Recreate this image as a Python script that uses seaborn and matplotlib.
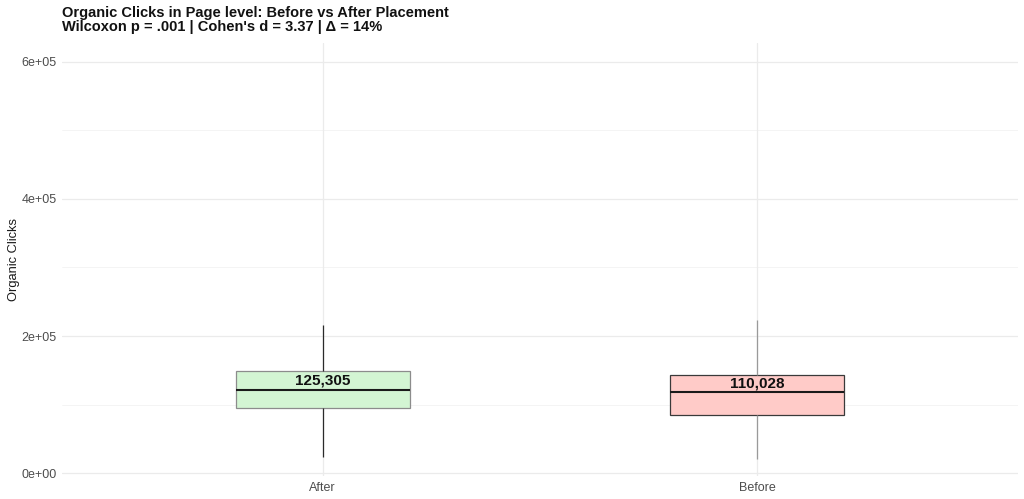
import numpy as np
import pandas as pd
import matplotlib
matplotlib.use("Agg")
import matplotlib.pyplot as plt
import seaborn as sns
from matplotlib.ticker import FixedLocator, FixedFormatter

# ---- data ----
groups = ["After", "Before"]
# five-number summaries: whisker low, Q1, median, Q3, whisker high
after_summary = [23900, 94700, 121500, 148300, 216700]
before_summary = [21500, 84900, 119000, 143500, 224000]
mean_values = [125305, 110028]
mean_labels = ["125,305", "110,028"]
y_ticks = [0, 200000, 400000, 600000]
y_tick_labels = ["0e+00", "2e+05", "4e+05", "6e+05"]
y_minor = [100000, 300000, 500000]
title_text = "Organic Clicks in Page level: Before vs After Placement\nWilcoxon p = .001 | Cohen's d = 3.37 | \u0394 = 14%"
y_label = "Organic Clicks"

fills = {"After": "#d3f5d3", "Before": "#ffcbc8"}
edges = {"After": "#8c8c8c", "Before": "#3a3a3a"}
whisk = {"After": "#2a2a2a", "Before": "#9a9a9a"}

df = pd.DataFrame({
    "group": ["After"] * len(after_summary) + ["Before"] * len(before_summary),
    "clicks": after_summary + before_summary,
})

sns.set_theme(style="white")
plt.rcParams["font.family"] = ["Liberation Sans", "DejaVu Sans"]

fig = plt.figure(figsize=(10.24, 4.99), dpi=100)
ax = fig.add_axes([62 / 1024, 1 - 476 / 499, (1018 - 62) / 1024, (476 - 43) / 499])

# grid
ax.set_axisbelow(True)
for y in y_ticks:
    ax.axhline(y, color="#ebebeb", lw=0.9, zorder=0)
for y in y_minor:
    ax.axhline(y, color="#f3f3f3", lw=0.6, zorder=0)
for i in range(len(groups)):
    ax.axvline(i, color="#ebebeb", lw=0.9, zorder=0)

for g in groups:
    sub = df[df["group"] == g]
    sns.boxplot(
        data=sub, x="group", y="clicks", order=groups, ax=ax,
        width=0.4, whis=np.inf, showcaps=False, fliersize=0,
        boxprops=dict(facecolor=fills[g], edgecolor=edges[g], linewidth=0.9),
        whiskerprops=dict(color=whisk[g], linewidth=0.9),
        medianprops=dict(color="#1a1a1a", linewidth=1.5),
    )

summaries = [after_summary, before_summary]
for i, (lab, s) in enumerate(zip(mean_labels, summaries)):
    ax.annotate(lab, xy=(i, s[3]), xytext=(0, -1.5), textcoords="offset points",
                ha="center", va="top", fontsize=11, fontweight="bold", color="#111111")

ax.set_xlim(-0.6, 1.6)
ax.set_ylim(-4000, 627000)
ax.yaxis.set_major_locator(FixedLocator(y_ticks))
ax.yaxis.set_major_formatter(FixedFormatter(y_tick_labels))
ax.tick_params(axis="both", length=0, labelsize=9, labelcolor="#4d4d4d", pad=4)
ax.set_xlabel("")
ax.set_ylabel(y_label, fontsize=9.3, color="#1a1a1a", labelpad=1)
for sp in ax.spines.values():
    sp.set_visible(False)
ax.grid(False)

fig.text(62 / 1024, 1 - 5.5 / 499, title_text, ha="left", va="top",
         fontsize=10.5, fontweight="bold", color="#111111", linespacing=1.05)

fig.savefig("out.png", dpi=100)
